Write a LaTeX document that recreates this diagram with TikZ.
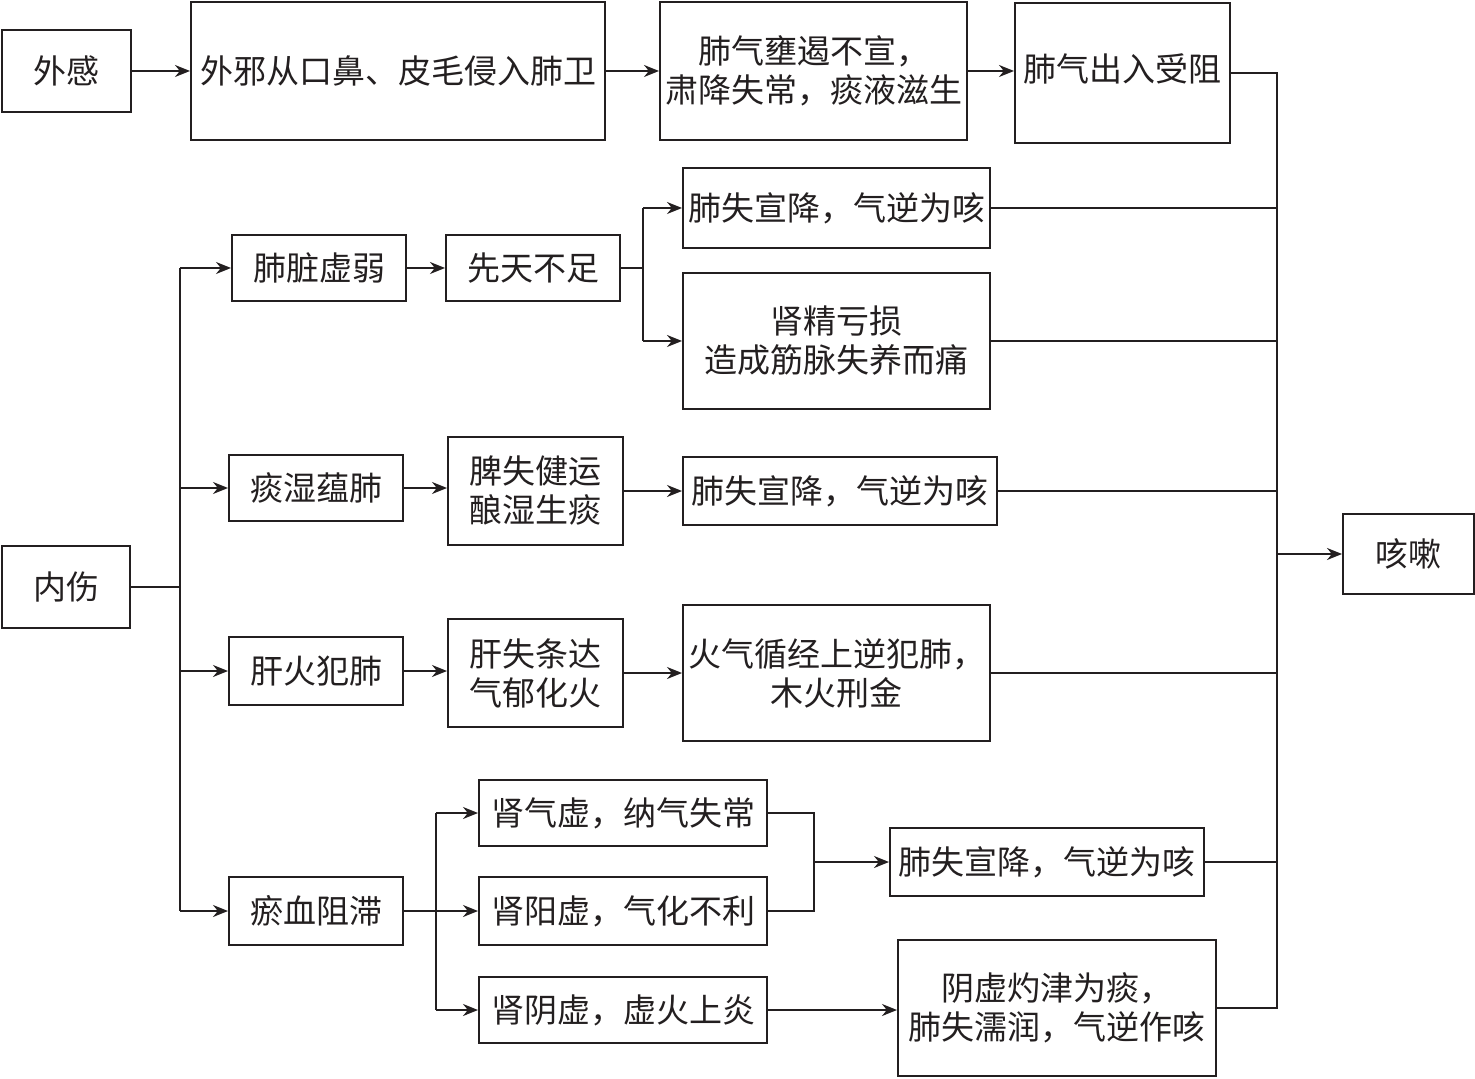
\documentclass[tikz,border=0pt]{standalone}
\usepackage{fontspec}
\newfontfamily\cjk{Noto Sans CJK SC}
\usetikzlibrary{arrows.meta}
\definecolor{ink}{HTML}{231F20}
\begin{document}
\begin{tikzpicture}[x=0.5pt,y=-0.5pt,
  box/.style={draw=ink,line width=1pt,inner sep=0pt,align=center,text=ink,
    font=\cjk\fontsize{16.5}{19.5}\selectfont},
  conn/.style={draw=ink,line width=1pt},
  arr/.style={conn,-{Stealth[length=7.5pt,width=6pt]}}]
\useasboundingbox (0,0) rectangle (1475,1079);
% top row
\node[box,minimum width=64.5pt,minimum height=41pt] (ganmao) at (66.5,71) {外感};
\node[box,minimum width=207pt,minimum height=69pt] (waixie) at (398,71) {外邪从口鼻、皮毛侵入肺卫};
\node[box,minimum width=153.5pt,minimum height=69pt] (feiqi) at (813.5,71) {肺气壅遏不宣，\\肃降失常，痰液滋生};
\node[box,minimum width=107.5pt,minimum height=70pt] (churu) at (1122.5,73) {};
\node[text=ink,font=\cjk\fontsize{16.5}{19.5}\selectfont,inner sep=0pt] (churut) at (1122.5,69) {肺气出入受阻};
% left / right
\node[box,minimum width=64pt,minimum height=41pt] (neishang) at (66,587) {内伤};
\node[box,minimum width=65.5pt,minimum height=40pt] (kesou) at (1408.5,554) {咳嗽};
% branch 1
\node[box,minimum width=87pt,minimum height=33pt] (fzxr) at (319,268) {肺脏虚弱};
\node[box,minimum width=87pt,minimum height=33pt] (xtbz) at (533,268) {先天不足};
\node[box,minimum width=153.5pt,minimum height=40pt] (fsxja) at (836.5,208) {肺失宣降，气逆为咳};
\node[box,minimum width=153.5pt,minimum height=68pt] (sjks) at (836.5,341) {肾精亏损\\造成筋脉失养而痛};
% branch 2
\node[box,minimum width=87pt,minimum height=33pt] (tsyf) at (316,488) {痰湿蕴肺};
\node[box,minimum width=87.5pt,minimum height=54pt] (psjy) at (535.5,491) {脾失健运\\酿湿生痰};
\node[box,minimum width=157pt,minimum height=34pt] (fsxjb) at (840,491) {肺失宣降，气逆为咳};
% branch 3
\node[box,minimum width=87pt,minimum height=34pt] (ghff) at (316,671) {肝火犯肺};
\node[box,minimum width=87.5pt,minimum height=54pt] (gstd) at (535.5,673) {肝失条达\\气郁化火};
\node[box,minimum width=153.5pt,minimum height=68pt] (hqxj) at (836.5,673) {火气循经上逆犯肺，\\木火刑金};
% branch 4
\node[box,minimum width=87pt,minimum height=34pt] (yxzz) at (316,911) {瘀血阻滞};
\node[box,minimum width=144pt,minimum height=33pt] (sqx) at (623,813) {肾气虚，纳气失常};
\node[box,minimum width=144pt,minimum height=34pt] (syangx) at (623,911) {肾阳虚，气化不利};
\node[box,minimum width=144pt,minimum height=33pt] (syinx) at (623,1010) {肾阴虚，虚火上炎};
\node[box,minimum width=157pt,minimum height=34pt] (fsxjc) at (1047,862) {肺失宣降，气逆为咳};
\node[box,minimum width=159pt,minimum height=68pt] (yxzj) at (1057,1008) {阴虚灼津为痰，\\肺失濡润，气逆作咳};
% coordinates
\coordinate (Rtop) at (1277,73);
\coordinate (Rbot) at (1277,1008);
\coordinate (Ltop) at (180,268);
\coordinate (Lbot) at (180,911);
\coordinate (Lmid) at (180,587);
\coordinate (Btop) at (643,208);
\coordinate (Bbot) at (643,341);
\coordinate (Bmid) at (643,268);
\coordinate (Ktop) at (436,813);
\coordinate (Kbot) at (436,1010);
\coordinate (Kmid) at (436,911);
\coordinate (Mtop) at (814,813);
\coordinate (Mbot) at (814,911);
\coordinate (Mmid) at (814,862);
% top row arrows
\draw[arr] (ganmao.east) -- (ganmao.east -| waixie.west);
\draw[arr] (waixie.east) -- (feiqi.west);
\draw[arr] (feiqi.east) -- (feiqi.east -| churu.west);
% right bus
\draw[conn] (churu.east) -- (Rtop) -- (Rbot) -- (yxzj.east);
\draw[conn] (fsxja.east) -- (fsxja.east -| Rtop);
\draw[conn] (sjks.east) -- (sjks.east -| Rtop);
\draw[conn] (fsxjb.east) -- (fsxjb.east -| Rtop);
\draw[conn] (hqxj.east) -- (hqxj.east -| Rtop);
\draw[conn] (fsxjc.east) -- (fsxjc.east -| Rtop);
\draw[arr] (Rtop |- kesou.west) -- (kesou.west);
% left bus
\draw[conn] (neishang.east) -- (Lmid);
\draw[conn] (Ltop) -- (Lbot);
\draw[arr] (Ltop) -- (fzxr.west);
\draw[arr] (Ltop |- tsyf.west) -- (tsyf.west);
\draw[arr] (Ltop |- ghff.west) -- (ghff.west);
\draw[arr] (Lbot) -- (yxzz.west);
% branch 1
\draw[arr] (fzxr.east) -- (xtbz.west);
\draw[conn] (xtbz.east) -- (Bmid);
\draw[conn] (Btop) -- (Bbot);
\draw[arr] (Btop) -- (fsxja.west);
\draw[arr] (Bbot) -- (sjks.west);
% branch 2
\draw[arr] (tsyf.east) -- (tsyf.east -| psjy.west);
\draw[arr] (psjy.east) -- (fsxjb.west);
% branch 3
\draw[arr] (ghff.east) -- (ghff.east -| gstd.west);
\draw[arr] (gstd.east) -- (gstd.east -| hqxj.west);
% branch 4
\draw[conn] (yxzz.east) -- (Kmid);
\draw[conn] (Ktop) -- (Kbot);
\draw[arr] (Ktop) -- (sqx.west);
\draw[arr] (Kmid) -- (syangx.west);
\draw[arr] (Kbot) -- (syinx.west);
\draw[conn] (sqx.east) -- (Mtop) -- (Mbot) -- (syangx.east);
\draw[arr] (Mmid) -- (fsxjc.west);
\draw[arr] (syinx.east) -- (syinx.east -| yxzj.west);
\end{tikzpicture}
\end{document}
